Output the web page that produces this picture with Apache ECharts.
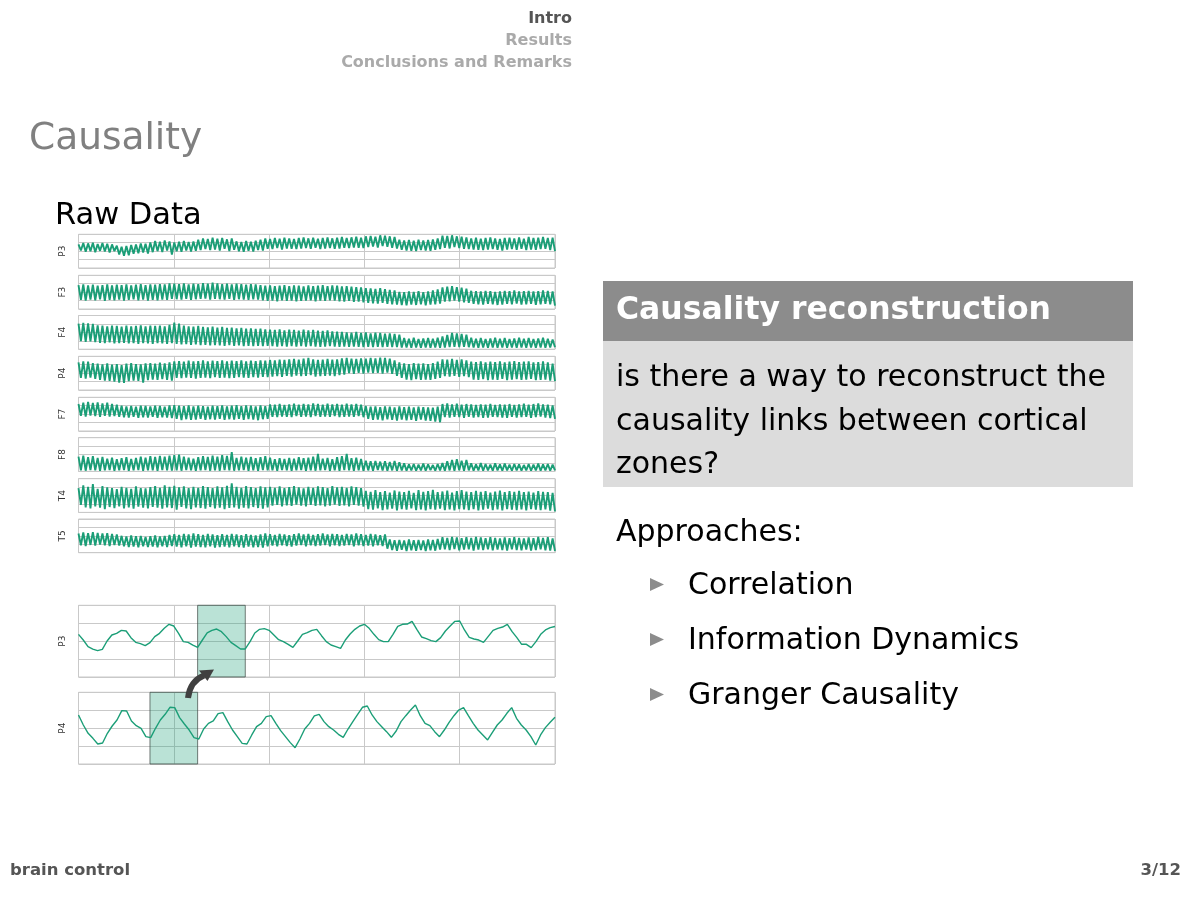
<!DOCTYPE html>
<html><head><meta charset="utf-8">
<script src="https://cdn.jsdelivr.net/npm/echarts@6/dist/echarts.min.js"></script>
<style>html,body{margin:0;padding:0;background:#fff}#c{width:1200px;height:900px}</style>
</head><body><div id="c"></div>
<script>
// ---------- data ----------
const rawLabels = ['P3','F3','F4','P4','F7','F8','T4','T5'];
const rawP3 = [70,52,74,48,73,50,75,47,71,51,74,49,72,46,70,50, 66,40,63,36,65,38, 68,42,70,44,73,46,72,43,76,47, 80,50,78,47,82,52,79,40, 76,50,78,48,80,52,77,49,79,51,84,53, 88,56,86,53,90,55,87,52,89,57,85,50,88,54, 79,50,77,48,80,51,78,49,81,53,84,52, 88,57,86,56,89,59,87,55,90,58,88,57,86,56,89,58,91,59,88,57,90,60,87,56,89,58,91,59,88,57,90,58,92,60,89,59,91,61,93,60,90,59, 94,62,95,64,93,61,97,65,96,63,94,60,92,58, 84,54,82,52,83,51,81,50,84,53,82,52,83,51,85,54,88,56, 96,60,95,58,97,62,94,59,93,57,91,56, 88,55,90,54,87,53,89,55,91,56,88,54,86,52,89,55,90,56,88,54,91,57,87,53,92,55,89,54,90,56,92,57,89,53,90,50];
const rawF3 = [71,27,73,25,70,28,72,26,69,29,71,24,73,27,70,26,72,28,71,25,73,27,70,29,72,26,74,28,71,25,73,27,72,26,74,28,73,27,76,30, 75,29,74,28,76,30,73,27,75,29,74,30,77,31,75,28,78,30,76,29,74,28,75,30,73,27,75,29,74,28,72,27,74,29,73,28,71,26, 69,24,70,25,68,23,69,26,71,24,68,25,70,23,69,24,67,25,70,26,68,23,69,25,71,24,68,26,70,25,69,23,67,22,68,24,66,21,65,22,64,20, 62,18,61,17,60,16,62,18,59,15,57,14,55,13, 51,12,50,11,52,13,51,12,53,14,50,11,52,13,55,14,58,16, 64,22,66,23,68,25,65,22,63,20,60,18, 54,15,53,14,52,13,54,15,53,14,51,12,52,13,54,15,53,14,55,16,52,13,53,14,54,15,52,12,53,14,55,15,54,14,52,10];
const rawF4 = [76,24,78,22,77,23,75,21, 71,19,70,18,68,20,70,17,69,18,67,19,70,17,68,18,69,16,71,18,68,17,70,16,69,18,70,17,68,16,72,18, 79,16,76,14,70,15,68,13,67,14,69,12,66,13,65,11,67,12,64,11,66,10,63,12,64,10,62,11,63,9,61,10,62,9,60,10,61,9,59,10, 58,9,57,8,59,9,56,8,58,9,57,8,55,9,58,8,56,9,57,8,55,7,54,8,56,9,53,8,52,7,51,8, 50,7,49,8,51,7,48,6,50,7,47,6,49,7,48,6,46,7,47,6,45,6,43,5, 33,5,31,4,34,5,30,4,32,5,33,4,31,5,34,4,38,5,42,6, 48,7,47,6,45,7,43,6, 34,5,31,4,33,5,30,4,32,5,34,4,31,5,33,4,30,5,32,4,34,5,31,4,33,5,30,4,32,5,34,4,31,5,29,6];
const rawP4 = [82,36,85,34,84,37,80,33, 78,30,76,28,79,27,75,25,77,22,74,21,78,26,80,28,77,27,76,22,79,29, 80,31,78,30,81,32,79,30,82,28, 85,36,86,35,84,37,87,36,85,34,86,36,88,37,85,35,87,38,86,36,88,37,85,35,87,36,86,38,88,37,85,36,87,38,86,37,88,39,87,38, 89,40,88,41,90,39,89,42,91,40,92,43,90,41,93,42,95,44,91,40,89,41,90,42,92,43,90,41,91,44,94,46, 95,50,93,48,92,51,94,49,93,52,95,50,94,51,96,49,95,52,93,48,88,42,82,36, 79,31,77,29,80,32,78,30,79,31,77,30,80,33,84,36, 91,41,90,40,92,42,89,39,91,41,88,38, 84,31,83,30,85,32,82,29,84,31,83,30,85,33,82,29,84,31,86,32,83,30,84,31,85,33,82,29,83,30,85,31,82,28,78,26];
const rawF7 = [80,45,84,43,86,46,83,44,85,42,82,45,84,43,80,44,78,42, 75,41,73,40,74,42,72,39,75,41,74,40,73,42,75,39,74,41,72,40,76,38, 77,36,75,32,74,35,76,33,73,34,75,36,74,33,72,35,75,34,74,36,76,33,73,35,75,34,77,36,74,33,76,35,75,34,73,32,76,35,74,36, 79,42,78,41,80,43,77,42,79,41,81,44,78,42,80,43,79,41,82,44,80,42,78,43,81,42,79,44,80,41,78,42,81,43,79,42,80,44,78,41, 74,36,72,33,73,34,71,32,73,35,72,33,70,31,73,34,71,32,72,33,70,30,72,34,71,31,70,30,69,28,72,26, 80,41,82,40,79,42,81,41,78,39,80,42,79,40,77,41,79,39,78,40,80,42,77,41,79,40,78,39,80,42,77,40,79,41,81,42,78,39,80,41,82,43,79,40,78,38,76,36];
const rawF8 = [44,3,47,2,42,4,45,3,40,2,43,3,38,4,41,2,36,3,39,4,42,2,37,3,40,4,44,2,41,3,45,3,43,2,46,4,44,3,47,2, 48,3,50,2,44,4,41,3,38,2,42,3,45,4,43,2,47,3,44,2,48,4,46,3,57,2,40,3,44,4,41,2,43,3,39,2,42,4,45,3, 41,3,36,2,39,4,37,3,40,2,38,3,42,4,39,2,41,3,44,2,52,3,38,4,40,2,36,3,42,2,45,4,52,3,39,2,41,3,37,2, 32,3,30,2,31,4,29,3,30,2,28,3,31,2,27,3, 24,2,21,3,22,2,20,3,23,2,21,4,19,2,22,3,25,2,30,3,34,2,36,3,32,2,34,3,24,2,21,3,25,2,22,3,20,2,24,3,21,2,23,3,20,2,22,3,21,2,19,3,22,2,20,3,23,2,21,3,22,2,20,3];
const rawT4 = [72,22,80,15,76,12,84,18,70,14,78,10,74,16,72,13,69,18,76,12,73,15,70,11,77,17,72,14,71,12,75,16,78,14,73,11,80,15,76,13, 79,8,74,16,77,12,72,10,76,15,73,13,78,11,75,16,72,12,77,14,74,10,79,13,86,15,76,11,73,14,78,12,75,16,72,13,77,11,74,15, 76,20,73,22,77,18,72,21,75,19,78,23,74,20,71,18,76,22,73,19,77,21,75,18,72,20,78,23,74,19,76,21,73,18,77,22,75,20,72,17, 64,10,61,8,66,12,60,7,63,9,59,11,65,6,62,10,60,8,64,12,58,7,66,9,61,6,63,10,67,8,60,11,62,7,65,9,59,6,63,10, 66,9,62,7,60,10,64,6,61,8,63,11,59,7,62,9,65,6,60,10,63,8,61,7,64,9,60,6,62,10,59,8,63,7,61,9,60,5,58,3];
const rawT5 = [57,22,60,20,58,23,61,21,59,24,57,22,58,20,56,23,54,21, 50,19,48,17,51,18,49,16,50,19,47,17,49,18,51,16,48,19,50,17,53,20, 55,18,53,16,56,19,54,15,57,18,55,17,53,16,56,19,54,15,52,17,55,18,53,16,56,19,54,17,52,15,55,18,53,16,51,17,54,15,57,19, 55,21,53,19,56,22,54,20,52,18,55,21,57,23,54,19,56,22,53,20,55,21,57,23,54,19,56,22,55,20,53,21,56,23,54,19,57,22,55,20,53,21,56,19,54,22,52,20,54,12, 39,8,37,6,38,9,36,5,39,7,37,6,38,8,36,5,39,7,38,6,41,9, 46,10,44,8,47,11,45,7,43,9,46,10,44,6,47,9,45,8,43,10,46,7,44,9,42,8,45,6,43,10,46,8,44,7,42,9,45,6,43,8,47,10,44,7,46,6,42,5];
const rawSeries = [rawP3, rawF3, rawF4, rawP4, rawF7, rawF8, rawT4, rawT5];

const zoomLabels = ['P3','P4'];
const zoomP3 = [59.5,51.6,42.3,39,36.7,38.6,50.2,58.6,60.9,65.1, 64.2,54.9,48.3,46.5,43.7,47.9,56.3,60.9,67.9,73.5, 71.1,60.9,49.3,48.3,44.6,41.4,51.6,61.4,65.1,66.9, 63.2,56.3,48.3,43.7,39.1,39.1,49.3,61.4,66.5,67.4, 65.1,58.6,52.1,49.3,45.6,41.4,50.2,59.5,61.8,65.1, 66.5,57.6,49.3,44.6,42.3,40,51.6,60,66.5,71.1, 73.5,67.9,59.5,52.1,49.3,49.3,59.5,70.7,73.5,73.9, 77.6,66.5,55.8,53.5,50.7,49.3,54.9,64.2,71.1,77.6, 78.1,65.6,55.3,53,51.6,48.3,56.7,65.1,67.9,69.7, 73.5,63.2,54.9,45.6,45.6,40.9,49.3,59.5,65.6,68.8,70.5];
const zoomP4 = [68.4,54.4,42.8,35.8,27.9,29.3,42.8,53,61.4,74.4, 74,60,53.5,49.8,38.1,36.7,49.8,61.4,69.3,79.1, 78.6,64.7,55.8,47.4,36.7,34.9,48.8,56.7,60,70.2, 71.6,59.1,47.4,38.1,28.8,27.9,40.5,52.1,56.7,66, 67.4,56.7,46.5,38.1,29.8,22.8,34.9,48.8,56.7,67, 69.3,59.1,52.1,47.4,41.4,37.2,48.8,59.1,69.3,79.1, 80.9,68.4,59.1,52.1,45.1,37.2,46,59.1,67.4,75.3, 82.3,67.4,56.7,53.5,45.1,38.1,47.4,58.1,67.4,75.3, 78.6,67.4,56.7,47.4,40.5,33.5,44.2,54.4,61.4,70.7, 78.6,63.7,54.4,47.4,38.1,26.5,40.5,50.7,58.1,65.1];
const zoomSeries = [zoomP3, zoomP4];
const shadeRanges = [[25,35],[15,25]];

const navItems = ['Intro','Results','Conclusions and Remarks'];
const blockTitle = 'Causality reconstruction';
const blockLines = ['is there a way to reconstruct the','causality links between cortical','zones?'];
const approachesLabel = 'Approaches:';
const bullets = ['Correlation','Information Dynamics','Granger Causality'];

// ---------- layout ----------
const GREEN = '#1b9e77';
const GRIDC = '#c9c9c9';
const FONT = '"DejaVu Sans", sans-serif';
const left = 78.5, width = 476.5;
const rawTops = [234.3, 275.3, 315.5, 356.3, 397.3, 437.7, 478.7, 519];
const rawH = 33.7;
const zoomTops = [605.3, 692.3];
const zoomH = 71.7;

const grid = [], xAxis = [], yAxis = [], series = [];
function addPanel(top, h, label, data, lw, shade) {
  const k = grid.length;
  grid.push({left: left, top: top, width: width, height: h, show: true,
    borderColor: GRIDC, borderWidth: 1, backgroundColor: 'transparent'});
  xAxis.push({type: 'value', gridIndex: k, min: 0, max: 100, interval: 20,
    axisLine: {show: false}, axisTick: {show: false}, axisLabel: {show: false},
    splitLine: {show: true, lineStyle: {color: GRIDC, width: 1}}});
  yAxis.push({type: 'value', gridIndex: k, min: 0, max: 100, interval: 25,
    axisLine: {show: false}, axisTick: {show: false}, axisLabel: {show: false},
    splitLine: {show: true, lineStyle: {color: GRIDC, width: 1}},
    name: label, nameLocation: 'middle', nameRotate: 90, nameGap: 11,
    nameTextStyle: {fontSize: 9, color: '#333', fontFamily: FONT}});
  const n = data.length;
  const s = {type: 'line', xAxisIndex: k, yAxisIndex: k, silent: true,
    data: data.map((v, i) => [i * 100 / (n - 1), v]),
    symbol: 'none', lineStyle: {color: GREEN, width: lw}, z: 3};
  if (shade) {
    s.markArea = {silent: true,
      itemStyle: {color: 'rgba(27,158,119,0.3)', borderColor: 'rgba(70,80,76,0.75)', borderWidth: 1},
      data: [[{xAxis: shade[0]}, {xAxis: shade[1]}]]};
  }
  series.push(s);
}
rawSeries.forEach((d, i) => addPanel(rawTops[i], rawH, rawLabels[i], d, 1.9, null));
zoomSeries.forEach((d, i) => addPanel(zoomTops[i], zoomH, zoomLabels[i], d, 1.4, shadeRanges[i]));

const graphic = [];
function txt(t, x, y, font, fill, align) {
  graphic.push({type: 'text', z: 10, style: {text: t, x: x, y: y, font: font, fill: fill,
    textAlign: align || 'left', textVerticalAlign: 'middle'}});
}
const navY = [19, 41, 63];
navItems.forEach((t, i) => txt(t, 572, navY[i], 'bold 16px ' + FONT, i === 0 ? '#555555' : '#aaaaaa', 'right'));
txt('Causality', 29, 139, '37.5px ' + FONT, '#808080');
txt('Raw Data', 55, 216, '30.5px ' + FONT, '#000000');

graphic.push({type: 'rect', z: 5, shape: {x: 603, y: 281, width: 530, height: 60}, style: {fill: '#8c8c8c'}});
graphic.push({type: 'rect', z: 5, shape: {x: 603, y: 341, width: 530, height: 146}, style: {fill: '#dcdcdc'}});
txt(blockTitle, 616, 311, 'bold 31.5px ' + FONT, '#ffffff');
const lineY = [378, 422, 465];
blockLines.forEach((t, i) => txt(t, 616, lineY[i], '30px ' + FONT, '#000000'));
txt(approachesLabel, 616, 533, '30px ' + FONT, '#000000');
const bulY = [586, 641, 696];
bullets.forEach((t, i) => {
  txt(t, 688, bulY[i], '30px ' + FONT, '#000000');
  graphic.push({type: 'polygon', z: 10, shape: {points: [[650, bulY[i] - 8], [664, bulY[i] - 1.5], [650, bulY[i] + 5]]},
    style: {fill: '#8c8c8c'}});
});

// arrow
graphic.push({type: 'bezierCurve', z: 12, shape: {x1: 188, y1: 698, cpx1: 190, cpy1: 681, x2: 204, y2: 675.5},
  style: {stroke: '#404040', lineWidth: 6, fill: null}});
graphic.push({type: 'polygon', z: 12, shape: {points: [[214, 669.5], [199, 670.5], [207.5, 681]]},
  style: {fill: '#404040'}});

txt('brain control', 10, 871, 'bold 16.5px ' + FONT, '#555555');
txt('3/12', 1181, 871, 'bold 16.5px ' + FONT, '#555555', 'right');

const chart = echarts.init(document.getElementById('c'), null, {renderer: 'canvas'});
chart.setOption({animation: false, backgroundColor: '#ffffff', grid, xAxis, yAxis, series, graphic});
</script></body></html>
